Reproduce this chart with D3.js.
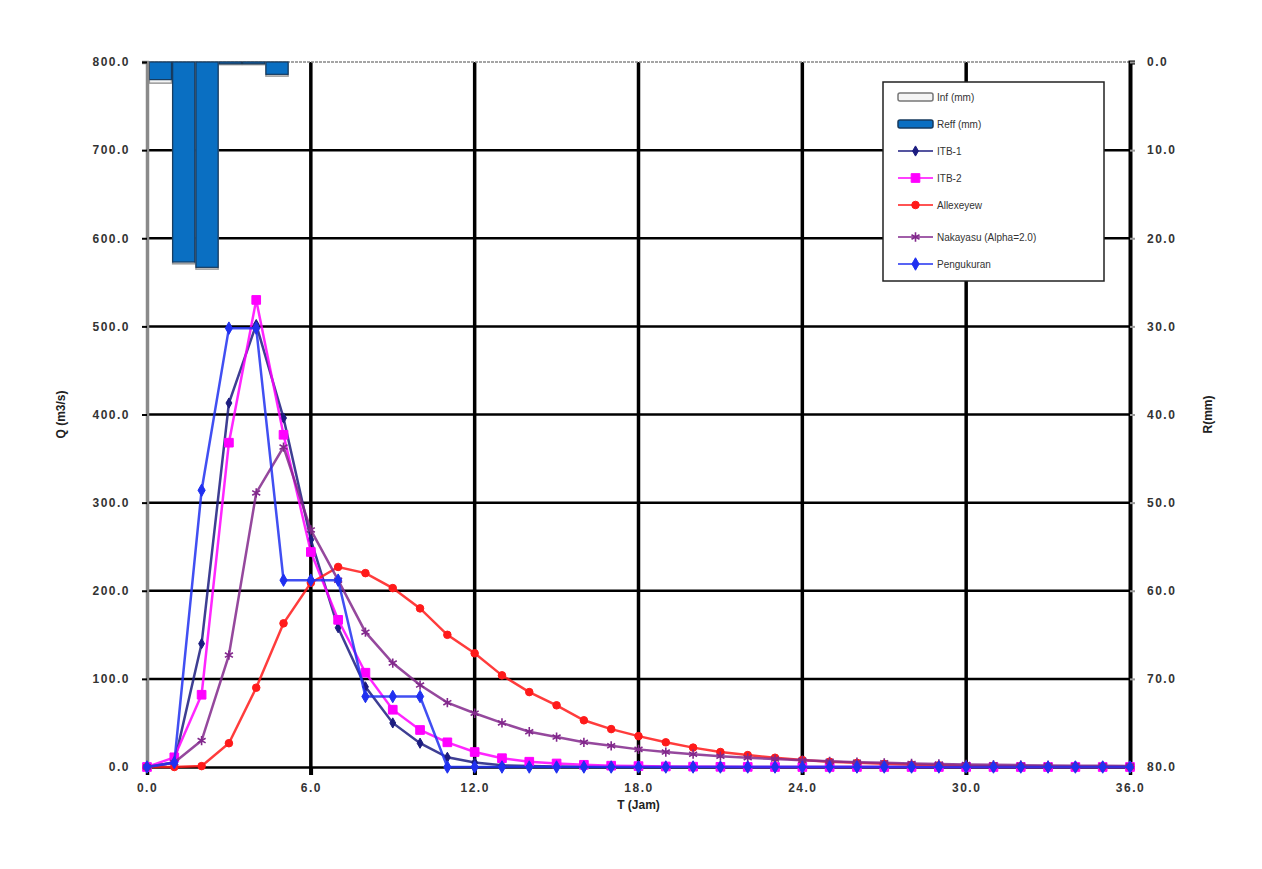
<!DOCTYPE html>
<html>
<head>
<meta charset="utf-8">
<script src="https://cdn.jsdelivr.net/npm/d3@7"></script>
<style>
body { margin: 0; background: #fff; }
text { font-family: "Liberation Sans", Arial, sans-serif; }
</style>
</head>
<body>
<div id="chart"></div>
<script>
// Chart data
var hours = [0, 1, 2, 3, 4, 5, 6, 7, 8, 9, 10, 11, 12, 13, 14, 15, 16, 17, 18,
  19, 20, 21, 22, 23, 24, 25, 26, 27, 28, 29, 30, 31, 32, 33, 34, 35, 36];
var itb1 = [0, 5, 140, 413, 502, 396, 258, 158, 91, 50, 27, 11, 5, 2, 1, 0.5, 0.2, 0, 0,
  0, 0, 0, 0, 0, 0, 0, 0, 0, 0, 0, 0, 0, 0, 0, 0, 0, 0];
var itb2 = [0, 11, 82, 368, 530, 377, 244, 167, 107, 65, 42, 28, 17, 10, 6, 4, 2.5, 1.5, 1,
  0.6, 0.4, 0.2, 0.1, 0, 0, 0, 0, 0, 0, 0, 0, 0, 0, 0, 0, 0, 0];
var alexeyew = [0, 0, 1, 27, 90, 163, 209, 227, 220, 203, 180, 150, 129, 104, 85, 70, 53, 43, 35,
  28, 22, 17, 13.5, 10.5, 8, 6, 4.7, 3.6, 2.7, 2, 1.5, 1.1, 0.8, 0.6, 0.4, 0.3, 0.2];
var nakayasu = [0, 5, 30, 127, 311, 363, 269, 212, 153, 118, 93, 73, 61, 50, 40, 34, 28, 24, 20,
  17, 14.5, 12.3, 10.5, 9, 7.6, 6.5, 5.5, 4.7, 4, 3.4, 2.9, 2.5, 2.1, 1.8, 1.5, 1.3, 1.1];
var pengukuran = [0, 5, 314, 498, 498, 212, 212, 212, 80, 80, 80, 0, 0, 0, 0, 0, 0, 0, 0,
  0, 0, 0, 0, 0, 0, 0, 0, 0, 0, 0, 0, 0, 0, 0, 0, 0, 0];

// Rain bars (mm), on their own category axis
var rainSlots = [1, 2, 3, 4, 5, 6];
var inf = [2.4, 22.9, 23.5, 0.3, 0.3, 1.6];
var reff = [2.0, 22.7, 23.3, 0.2, 0.2, 1.4];

var xTicks = [0, 6, 12, 18, 24, 30, 36];
var qTicks = [0, 100, 200, 300, 400, 500, 600, 700, 800];
var rTicks = [0, 10, 20, 30, 40, 50, 60, 70, 80];

var series = [
  { name: "ITB-1", values: itb1, color: "#1c1c80", symbol: d3.symbolDiamond, size: 30, fillMark: true },
  { name: "ITB-2", values: itb2, color: "#ff00ff", symbol: d3.symbolSquare, size: 75, fillMark: true },
  { name: "Allexeyew", values: alexeyew, color: "#ff1a1a", symbol: d3.symbolCircle, size: 45, fillMark: true },
  { name: "Nakayasu (Alpha=2.0)", values: nakayasu, color: "#82288c", symbol: d3.symbolAsterisk, size: 60, fillMark: false },
  { name: "Pengukuran", values: pengukuran, color: "#2030f0", symbol: d3.symbolDiamond, size: 45, fillMark: true }
];

// Plot area
var margin = { top: 62, right: 132, bottom: 102, left: 147 },
  width = 1262 - margin.left - margin.right,
  height = 869 - margin.top - margin.bottom;

var svg = d3.select("#chart")
  .append("svg")
  .attr("width", 1262)
  .attr("height", 869)
  .append("g")
  .attr("transform", "translate(" + margin.left + "," + margin.top + ")");

var x = d3.scaleLinear().domain([0, 36]).range([0, width]);
var y = d3.scaleLinear().domain([0, 800]).range([height, 0]);
var yR = d3.scaleLinear().domain([0, 80]).range([0, height]);
var xBar = d3.scaleBand().domain(d3.range(1, 43)).range([0, width]).paddingInner(0.05).paddingOuter(0.1);

// Gridlines
svg.selectAll(".hgrid").data(qTicks.slice(1, -1)).enter()
  .append("line")
  .attr("x1", 0).attr("x2", width)
  .attr("y1", function (d) { return y(d); })
  .attr("y2", function (d) { return y(d); })
  .attr("stroke", "#000").attr("stroke-width", 2.5);

svg.selectAll(".vgrid").data(xTicks.slice(1, -1)).enter()
  .append("line")
  .attr("x1", function (d) { return x(d); })
  .attr("x2", function (d) { return x(d); })
  .attr("y1", 0).attr("y2", height + 8)
  .attr("stroke", "#000").attr("stroke-width", 3.5);

// Top border
svg.append("line")
  .attr("x1", 0).attr("x2", width).attr("y1", 0).attr("y2", 0)
  .attr("stroke", "#888").attr("stroke-width", 1.5).attr("stroke-dasharray", "3,1");

// Rain bars (hanging from the top)
svg.selectAll(".inf").data(inf).enter()
  .append("rect")
  .attr("x", function (d, i) { return xBar(rainSlots[i]); })
  .attr("y", 0)
  .attr("width", xBar.bandwidth())
  .attr("height", function (d) { return yR(d); })
  .attr("fill", "#f4f4f4").attr("stroke", "#999").attr("stroke-width", 1.5);

svg.selectAll(".reff").data(reff).enter()
  .append("rect")
  .attr("x", function (d, i) { return xBar(rainSlots[i]); })
  .attr("y", 0)
  .attr("width", xBar.bandwidth())
  .attr("height", function (d) { return yR(d); })
  .attr("fill", "#0a6fc2").attr("stroke", "#163a5e").attr("stroke-width", 1.2);

// Axes
var xAxis = svg.append("g").attr("transform", "translate(0," + height + ")")
  .call(d3.axisBottom(x).tickValues(xTicks).tickSize(8).tickFormat(d3.format(".1f")));
xAxis.select(".domain").attr("stroke", "#000").attr("stroke-width", 2.5);
xAxis.selectAll(".tick line").attr("stroke-width", 3.5);

var yAxis = svg.append("g")
  .call(d3.axisLeft(y).tickValues(qTicks).tickSize(5).tickPadding(12).tickFormat(d3.format(".1f")));
yAxis.select(".domain").attr("stroke", "#8a8a8a").attr("stroke-width", 3.5);
yAxis.selectAll(".tick line").attr("stroke-width", 2);

var yAxisR = svg.append("g").attr("transform", "translate(" + width + ",0)")
  .call(d3.axisRight(yR).tickValues(rTicks).tickSize(5).tickPadding(12).tickFormat(d3.format(".1f")));
yAxisR.select(".domain").attr("stroke", "#000").attr("stroke-width", 4);
yAxisR.selectAll(".tick line").attr("stroke", "#999").attr("stroke-width", 2);

svg.selectAll(".tick text")
  .attr("fill", "#333")
  .style("font-size", "12px")
  .style("font-weight", "bold")
  .style("letter-spacing", "1.5px");
xAxis.selectAll(".tick text").attr("dy", "1.2em");

// Axis titles
svg.append("text")
  .attr("x", x(18)).attr("y", height + 42)
  .attr("text-anchor", "middle")
  .style("font-size", "12px").style("font-weight", "bold").attr("fill", "#222")
  .text("T (Jam)");

svg.append("text")
  .attr("transform", "translate(" + (-82) + "," + (height / 2) + ") rotate(-90)")
  .attr("text-anchor", "middle")
  .style("font-size", "12px").style("font-weight", "bold").attr("fill", "#222")
  .text("Q (m3/s)");

svg.append("text")
  .attr("transform", "translate(" + (width + 82) + "," + (height / 2) + ") rotate(-90)")
  .attr("text-anchor", "middle")
  .style("font-size", "12px").style("font-weight", "bold").attr("fill", "#222")
  .text("R(mm)");

// Series lines and markers
var line = d3.line()
  .x(function (d, i) { return x(hours[i]); })
  .y(function (d) { return y(d); });

series.forEach(function (s) {
  svg.append("path")
    .datum(s.values)
    .attr("fill", "none")
    .attr("stroke", s.color)
    .attr("stroke-width", 2.5)
    .attr("stroke-opacity", 0.85)
    .attr("d", line);

  svg.selectAll(null).data(s.values).enter()
    .append("path")
    .attr("transform", function (d, i) { return "translate(" + x(hours[i]) + "," + y(d) + ")"; })
    .attr("d", d3.symbol().type(s.symbol).size(s.size))
    .attr("fill", s.fillMark ? s.color : "none")
    .attr("stroke", s.color)
    .attr("stroke-width", s.fillMark ? 1 : 1.6);
});

// Legend
var legendRows = [97, 124, 151, 178, 205, 237, 264];
var legend = svg.append("g").attr("transform", "translate(" + (-margin.left) + "," + (-margin.top) + ")");

legend.append("rect")
  .attr("x", 883).attr("y", 82).attr("width", 221).attr("height", 199)
  .attr("fill", "#fff").attr("stroke", "#222").attr("stroke-width", 1.5);

var barKeys = [
  { name: "Inf (mm)", fill: "#f4f4f4", stroke: "#777" },
  { name: "Reff (mm)", fill: "#0a6fc2", stroke: "#163a5e" }
];

barKeys.forEach(function (k, i) {
  legend.append("rect")
    .attr("x", 898).attr("y", legendRows[i] - 4).attr("width", 35).attr("height", 8)
    .attr("rx", 2)
    .attr("fill", k.fill).attr("stroke", k.stroke).attr("stroke-width", 1.5);
  legend.append("text")
    .attr("x", 937).attr("y", legendRows[i]).attr("dy", "0.35em")
    .style("font-size", "10px").attr("fill", "#333")
    .text(k.name);
});

series.forEach(function (s, i) {
  var yy = legendRows[i + 2];
  legend.append("line")
    .attr("x1", 898).attr("x2", 933).attr("y1", yy).attr("y2", yy)
    .attr("stroke", s.color).attr("stroke-width", 1.6);
  legend.append("path")
    .attr("transform", "translate(915.5," + yy + ")")
    .attr("d", d3.symbol().type(s.symbol).size(s.size))
    .attr("fill", s.fillMark ? s.color : "none")
    .attr("stroke", s.color)
    .attr("stroke-width", s.fillMark ? 1 : 1.6);
  legend.append("text")
    .attr("x", 937).attr("y", yy).attr("dy", "0.35em")
    .style("font-size", "10px").attr("fill", "#333")
    .text(s.name);
});
</script>
</body>
</html>
